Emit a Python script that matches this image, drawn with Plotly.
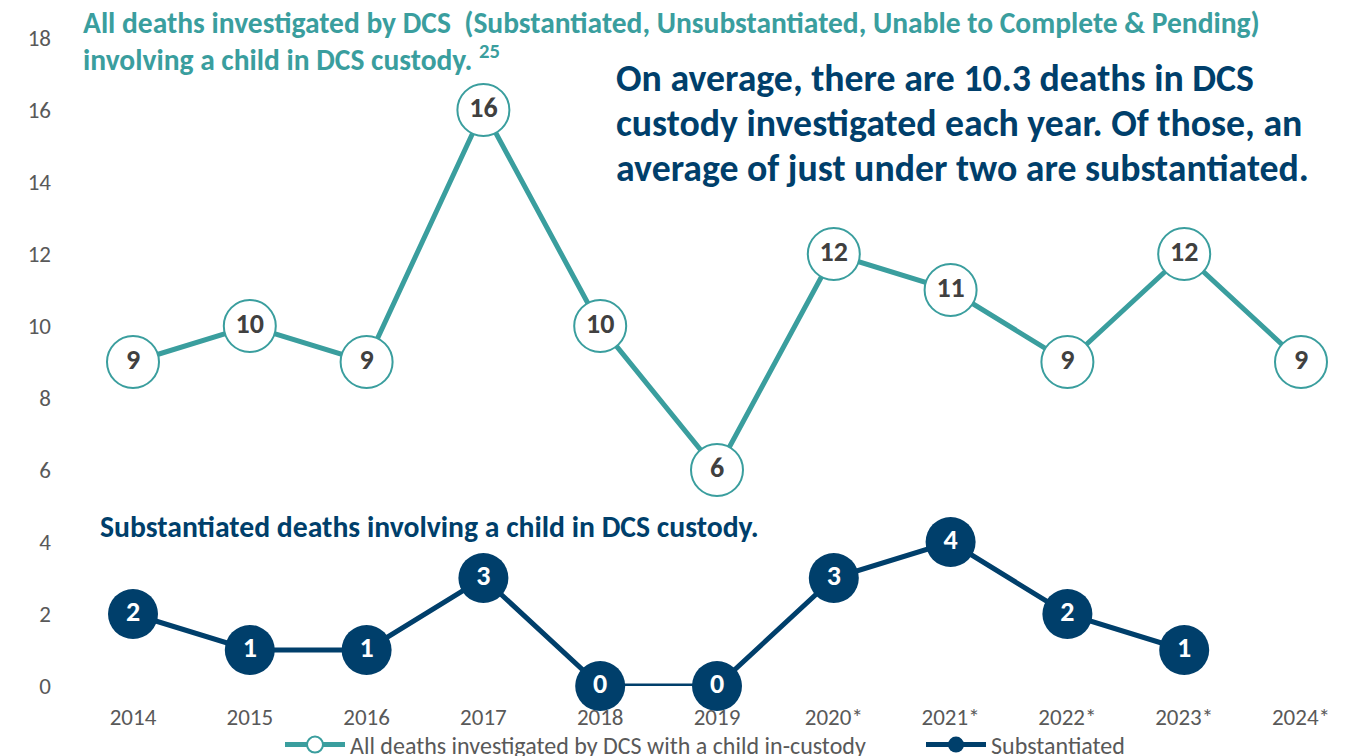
import plotly.graph_objects as go

years = ["2014", "2015", "2016", "2017", "2018", "2019", "2020*", "2021*", "2022*", "2023*", "2024*"]
all_deaths = [9, 10, 9, 16, 10, 6, 12, 11, 9, 12, 9]
substantiated = [2, 1, 1, 3, 0, 0, 3, 4, 2, 1, None]

TEAL = "#3A9E9E"
NAVY = "#003F6B"
GREY = "#595959"
FONT = "Carlito, Lato, sans-serif"

# the page draws the figure 8px in from the top-left corner
OFF = 8
L, T, B = 75 - OFF, 38 - OFF, 756 - (686 - OFF)
PH = 756 - T - B
PW = 1356 - L
STEP = 116.8
X0 = -(133 - 75) / STEP


def py(p):
    return (756 - B - (p - OFF)) / PH


def px(p):
    return ((p - OFF) - L) / PW


fig = go.Figure()
fig.add_trace(go.Scatter(
    x=years, y=all_deaths, mode="lines+markers+text",
    name="All deaths investigated by DCS with a child in-custody",
    line=dict(color=TEAL, width=5),
    marker=dict(size=52, color="white", line=dict(color=TEAL, width=2)),
    text=[str(v) for v in all_deaths], textposition="middle center",
    textfont=dict(family=FONT, size=28, color="#404040", weight="bold"),
    cliponaxis=False, legend="legend",
))
fig.add_trace(go.Scatter(
    x=years, y=substantiated, mode="lines+markers+text",
    name="Substantiated",
    line=dict(color=NAVY, width=5),
    marker=dict(size=50, color=NAVY, line=dict(color=NAVY, width=0)),
    text=["" if v is None else str(v) for v in substantiated], textposition="middle center",
    textfont=dict(family=FONT, size=28, color="white", weight="bold"),
    cliponaxis=False, legend="legend2",
))

title_lines = ["All deaths investigated by DCS  (Substantiated, Unsubstantiated, Unable to Complete & Pending)",
               "involving a child in DCS custody. <sup>25</sup>"]
for yy, ln in zip([23, 58], title_lines):
    fig.add_annotation(
        xref="paper", yref="paper", x=px(81), y=py(yy), xanchor="left", yanchor="middle",
        text=ln, showarrow=False, align="left",
        font=dict(family=FONT, size=29.5, color=TEAL, weight="bold"),
    )
big_lines = ["On average, there are 10.3 deaths in DCS",
             "custody investigated each year. Of those, an",
             "average of just under two are substantiated."]
for i, ln in enumerate(big_lines):
    fig.add_annotation(
        xref="paper", yref="paper", x=px(614), y=py(78 + 45 * i),
        xanchor="left", yanchor="middle", text=ln, showarrow=False, align="left",
        font=dict(family=FONT, size=37.8, color=NAVY, weight="bold"),
    )
fig.add_annotation(
    xref="paper", yref="y", x=px(98), y=4.42, xanchor="left", yanchor="middle",
    text="Substantiated deaths involving a child in DCS custody.",
    showarrow=False, align="left",
    font=dict(family=FONT, size=29.7, color=NAVY, weight="bold"),
)

leg_common = dict(orientation="h", xanchor="left", yref="container",
                  y=(756 - (745 - OFF)) / 756, yanchor="middle",
                  font=dict(family=FONT, size=24, color=GREY), itemwidth=60,
                  bgcolor="rgba(0,0,0,0)")
fig.update_layout(
    width=1356, height=756,
    margin=dict(l=L, r=0, t=T, b=B),
    paper_bgcolor="white", plot_bgcolor="white",
    font=dict(family=FONT, size=23, color=GREY),
    showlegend=True,
    legend=dict(x=px(280), **leg_common),
    legend2=dict(x=px(921), **leg_common),
    xaxis=dict(type="category", range=[X0, X0 + PW / STEP], showgrid=False, zeroline=False,
               showline=False, ticks="", tickfont=dict(size=23, color=GREY),
               ticklabelstandoff=15, automargin=False),
    yaxis=dict(range=[0, 18], dtick=2, showgrid=False, zeroline=False, showline=False,
               tickfont=dict(size=23, color=GREY), ticklabelstandoff=23, automargin=False),
)

fig.write_html("out.html")
